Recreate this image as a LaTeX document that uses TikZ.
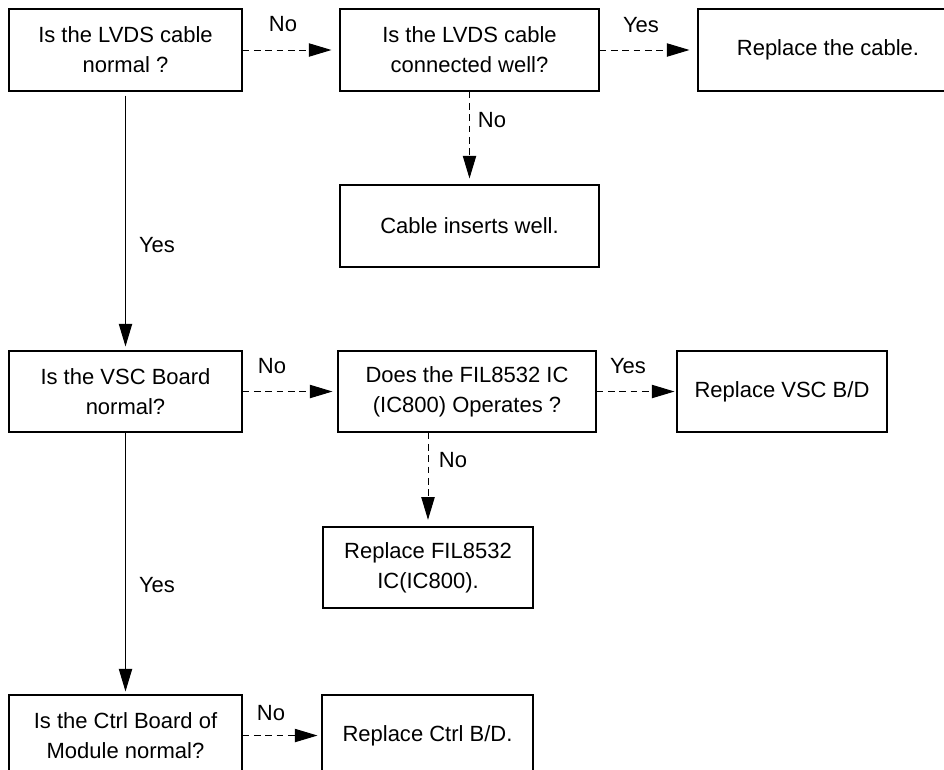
\documentclass[tikz,border=0pt]{standalone}
\usepackage{fontspec}
\setmainfont{Liberation Sans}
\usetikzlibrary{arrows.meta}
\begin{document}
\begin{tikzpicture}[x=0.75pt,y=-0.75pt,
  box/.style={draw=black, line width=0.8pt, align=center, inner sep=0pt, font=\fontsize{16.5}{22.5}\selectfont},
  lbl/.style={inner sep=0pt, font=\fontsize{16.5}{22.5}\selectfont},
  yesline/.style={draw=black, line width=0.75pt, -{Triangle[length=17pt,width=10pt]}},
  noline/.style={yesline, dash pattern=on 5pt off 3.5pt}]
\clip (0,0) rectangle (944,769);
\fill[white] (0,0) rectangle (944,769);
% boxes
\node[box, minimum width=174.75pt, minimum height=61.5pt] (A) at (125.5,50) {Is the LVDS cable\\normal ?};
\node[box, minimum width=194.25pt, minimum height=61.5pt] (B) at (469.5,50) {Is the LVDS cable\\connected well?};
\node[box, minimum width=195pt, minimum height=61.5pt] (C) at (828,50) {Replace the cable.};
\node[box, minimum width=194.25pt, minimum height=61.5pt] (D) at (469.5,226) {Cable inserts well.};
\node[box, minimum width=174.75pt, minimum height=60.75pt] (E) at (125.5,391.5) {Is the VSC Board\\normal?};
\node[box, minimum width=193.5pt, minimum height=60.75pt] (F) at (467,391.5) {Does the FIL8532 IC\\(IC800) Operates ?};
\node[box, minimum width=157.5pt, minimum height=60.75pt] (G) at (782,391.5) {Replace VSC B/D};
\node[box, minimum width=157.5pt, minimum height=60.75pt] (H) at (428,567.5) {Replace FIL8532\\IC(IC800).};
\node[box, minimum width=174.75pt, minimum height=60.75pt] (I) at (125.5,735.5) {Is the Ctrl Board of\\Module normal?};
\node[box, minimum width=158.25pt, minimum height=60.75pt] (J) at (427.5,735.5) {Replace Ctrl B/D.};
% connectors
\draw[noline, shorten >=6pt] (A.east) -- (B.west);
\draw[noline, shorten >=6pt] (B.east) -- (C.west);
\draw[noline, shorten >=4.5pt] (B.south) -- (D.north);
\draw[yesline, shorten <=3pt, shorten >=3pt] (A.south) -- (E.north);
\draw[noline, shorten >=3.75pt] (E.east) -- (F.west);
\draw[noline, shorten >=1.5pt] (F.east) -- (G.west);
\draw[noline, shorten >=5pt] (F.south -| H.north) -- (H.north);
\draw[yesline, shorten >=2.25pt] (E.south) -- (I.north);
\draw[noline, shorten >=3pt] (I.east) -- (J.west);
% labels
\node[lbl] (n1) at (283,24.5) {No};
\node[lbl] (y1) at (641,25.5) {Yes};
\node[lbl] (n2) at (492,120) {No};
\node[lbl] (y2) at (157,245) {Yes};
\node[lbl] (n3) at (272,366) {No};
\node[lbl] (y3) at (628,366) {Yes};
\node[lbl] (n4) at (453,460) {No};
\node[lbl] (y4) at (157,585) {Yes};
\node[lbl] (n5) at (271,713) {No};
\end{tikzpicture}
\end{document}
